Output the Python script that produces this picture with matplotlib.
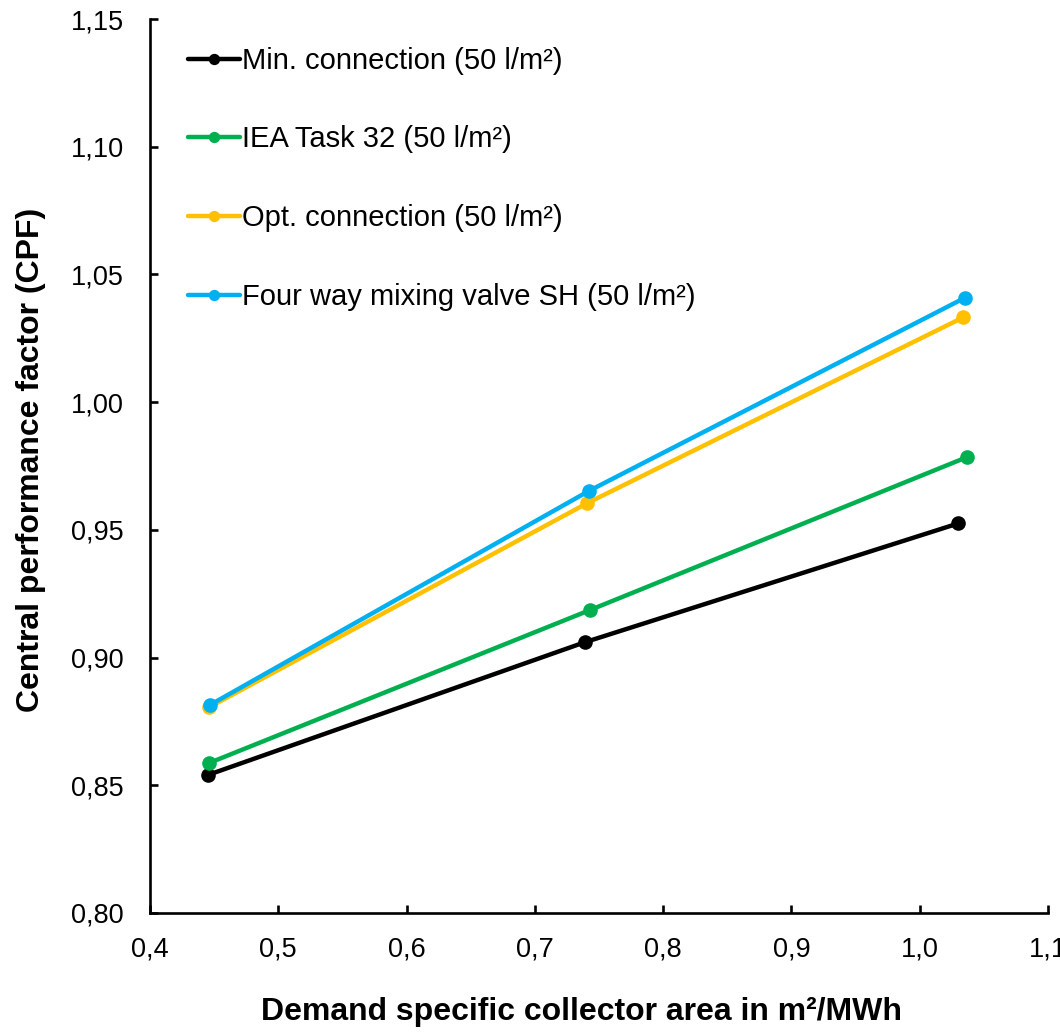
import matplotlib
matplotlib.use("Agg")
import matplotlib.pyplot as plt
from matplotlib.ticker import FuncFormatter, MultipleLocator

plt.rcParams['font.family'] = ['Liberation Sans', 'DejaVu Sans']

labels = ["Min. connection (50 l/m²)",
          "IEA Task 32 (50 l/m²)",
          "Opt. connection (50 l/m²)",
          "Four way mixing valve SH (50 l/m²)"]
colors = ["#000000", "#00b050", "#ffc000", "#00b0f0"]

x_min = [0.445, 0.739, 1.030]
y_min = [0.854, 0.906, 0.9525]
x_iea = [0.446, 0.743, 1.037]
y_iea = [0.8587, 0.9186, 0.9785]
x_opt = [0.446, 0.741, 1.034]
y_opt = [0.8805, 0.9605, 1.0332]
x_fwv = [0.447, 0.742, 1.035]
y_fwv = [0.8815, 0.9652, 1.0408]

xs = [x_min, x_iea, x_opt, x_fwv]
ys = [y_min, y_iea, y_opt, y_fwv]

fig = plt.figure(figsize=(10.6, 10.33), dpi=100)
ax = fig.add_axes([0.1415, 0.1162, 0.8472, 0.8654])

for x, y, c, lab in zip(xs, ys, colors, labels):
    ax.plot(x, y, color=c, lw=3.2, marker="o", ms=9.5, label=lab,
            solid_capstyle="round")

ax.set_xlim(0.4, 1.1)
ax.set_ylim(0.80, 1.15)
ax.xaxis.set_major_locator(MultipleLocator(0.1))
ax.yaxis.set_major_locator(MultipleLocator(0.05))
ax.xaxis.set_major_formatter(FuncFormatter(lambda v, p: f"{v:.1f}".replace(".", ",")))
ax.yaxis.set_major_formatter(FuncFormatter(lambda v, p: f"{v:.2f}".replace(".", ",")))

for s in ["top", "right"]:
    ax.spines[s].set_visible(False)
for s in ["left", "bottom"]:
    ax.spines[s].set_linewidth(1.9)
ax.tick_params(direction="in", length=6, width=1.9, labelsize=19.5)
ax.tick_params(axis="x", pad=17)
ax.tick_params(axis="y", pad=19)

ax.set_xlabel("Demand specific collector area in m²/MWh", fontsize=23,
              fontweight="bold")
ax.set_ylabel("Central performance factor (CPF)", fontsize=23,
              fontweight="bold")
ax.xaxis.set_label_coords(0.48, -0.094)
ax.yaxis.set_label_coords(-0.116, 0.507)

ax.legend(loc="upper left", bbox_to_anchor=(0.042, 0.969), frameon=False,
          fontsize=21, handlelength=1.8, handletextpad=0.05, borderpad=0,
          borderaxespad=0, labelspacing=1.74, markerscale=0.75)

fig.savefig("out.png", dpi=100)
